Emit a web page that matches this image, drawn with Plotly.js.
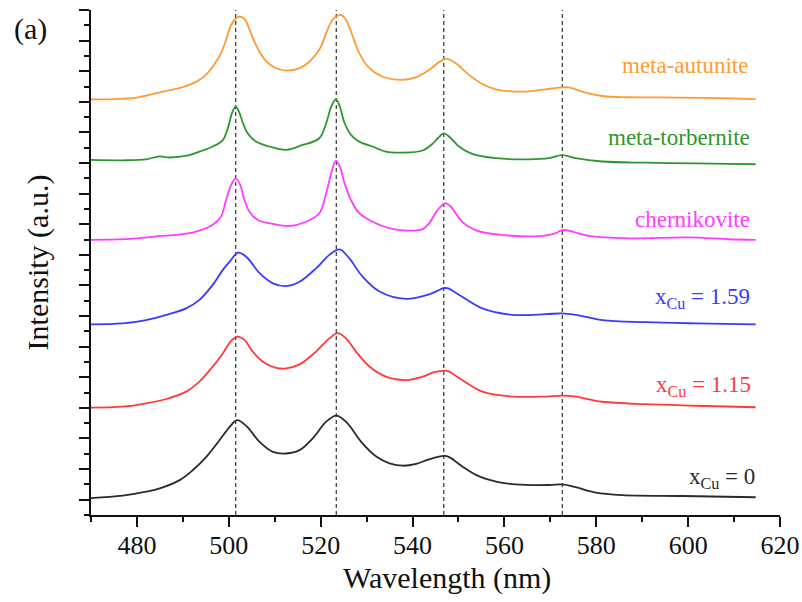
<!DOCTYPE html>
<html>
<head>
<meta charset="utf-8">
<script src="https://cdn.plot.ly/plotly-3.0.1.min.js"></script>
<style>
  html, body { margin: 0; padding: 0; background: #ffffff; }
  #chart { width: 802px; height: 602px; }
</style>
</head>
<body>
<div id="chart"></div>
<script>
// Photoluminescence spectra, stacked with vertical offsets (arbitrary units)

const wlAutunite = [470, 475, 480, 485, 490, 493, 495, 496.8, 498.3, 499.4, 500.5, 501.6, 502.5, 503.4, 504.5, 505.6, 506.7, 508.2, 510, 512.5, 515.4, 517.5, 519.7, 521.2, 522.3, 523.3, 524.4, 525.5, 527, 528.4, 530.6, 533.5, 537.5, 540.7, 543.6, 545.5, 546.8, 547.6, 549.4, 552.3, 555.2, 558.1, 563.9, 569, 572.6, 574, 577, 581.3, 587.1, 598, 607.4, 614.7];
const intAutunite = [13.58, 13.59, 13.64, 13.81, 13.98, 14.16, 14.38, 14.71, 15.09, 15.52, 16.01, 16.23, 16.28, 16.21, 15.87, 15.46, 15.13, 14.82, 14.62, 14.52, 14.60, 14.81, 15.20, 15.74, 16.12, 16.28, 16.34, 16.18, 15.63, 15.09, 14.60, 14.32, 14.22, 14.30, 14.54, 14.77, 14.89, 14.90, 14.76, 14.38, 14.08, 13.91, 13.83, 13.91, 13.97, 13.97, 13.83, 13.69, 13.65, 13.64, 13.62, 13.59];

const wlTorbernite = [470, 476.9, 482, 484.9, 487.1, 491.4, 494.3, 496.5, 498.7, 499.8, 500.7, 501.5, 502.2, 503.1, 504.1, 505.9, 508.8, 512.5, 516.1, 519.7, 521.2, 522.3, 523.3, 524.2, 525.1, 526.6, 528.4, 531.3, 534.2, 537.8, 542.2, 544.3, 545.5, 546.8, 548, 550.1, 553, 558.1, 565.3, 569.7, 572.6, 575.5, 581.3, 590.7, 601.6, 608.9, 614.7];
const intTorbernite = [11.60, 11.59, 11.62, 11.72, 11.68, 11.76, 11.91, 12.04, 12.25, 12.64, 13.13, 13.34, 13.18, 12.80, 12.47, 12.20, 12.04, 11.93, 12.09, 12.31, 12.80, 13.34, 13.59, 13.34, 12.85, 12.42, 12.20, 12.04, 11.87, 11.84, 11.91, 12.12, 12.31, 12.47, 12.36, 12.04, 11.80, 11.66, 11.62, 11.66, 11.76, 11.66, 11.55, 11.51, 11.49, 11.47, 11.46];

const wlChernikovite = [470, 478.4, 482.8, 485, 488.6, 492.9, 496.5, 498.3, 499.4, 500.5, 501.5, 502.5, 503.4, 504.5, 506.3, 509.6, 513.2, 516.8, 519.7, 521.2, 522.3, 523.3, 524.2, 525.1, 526.6, 528.4, 531.3, 534.9, 538.6, 542.2, 543.6, 545.5, 547.1, 548.3, 550.8, 553.7, 559.5, 568.3, 571.2, 572.6, 574.8, 578.4, 587.1, 600.2, 608.9, 614.7];
const intChernikovite = [8.99, 9.02, 9.08, 9.12, 9.15, 9.26, 9.48, 9.75, 10.29, 10.78, 11.00, 10.78, 10.29, 9.91, 9.64, 9.51, 9.44, 9.58, 9.86, 10.51, 11.17, 11.58, 11.38, 10.89, 10.29, 9.86, 9.58, 9.37, 9.29, 9.34, 9.53, 9.97, 10.19, 10.08, 9.58, 9.31, 9.15, 9.12, 9.21, 9.31, 9.26, 9.12, 9.04, 9.07, 9.01, 8.99];

const wlCu159 = [470, 476.9, 482, 486.4, 490.7, 493.6, 496.5, 498.7, 500.2, 502, 503.8, 506.7, 509.6, 512.5, 515.4, 519, 521.9, 524.1, 526.2, 529.1, 532.8, 538.6, 543.6, 546.8, 547.6, 550.8, 555.2, 561.7, 569, 572.6, 575.5, 581.3, 590.7, 601.6, 614.7];
const intCu159 = [6.23, 6.26, 6.37, 6.54, 6.75, 7.03, 7.52, 8.01, 8.28, 8.57, 8.44, 7.90, 7.57, 7.48, 7.62, 8.06, 8.50, 8.68, 8.39, 7.79, 7.30, 7.06, 7.21, 7.41, 7.41, 7.13, 6.75, 6.54, 6.56, 6.59, 6.54, 6.37, 6.30, 6.26, 6.23];

const wlCu115 = [470, 476.9, 482, 486.4, 490.7, 493.6, 496.5, 498.7, 500.5, 501.9, 503.4, 505.2, 507.4, 510.3, 512.5, 515.4, 519, 521.9, 523.7, 525.5, 527.7, 530.6, 534.2, 538.6, 542.2, 544.7, 546.8, 547.6, 550.8, 555.2, 561.7, 569, 572.6, 575.5, 581.3, 590.7, 601.6, 614.7];
const intCu115 = [3.51, 3.54, 3.65, 3.79, 4.03, 4.36, 4.85, 5.28, 5.69, 5.83, 5.72, 5.34, 5.01, 4.81, 4.79, 4.92, 5.34, 5.77, 5.94, 5.77, 5.34, 4.85, 4.52, 4.41, 4.52, 4.67, 4.71, 4.71, 4.41, 4.03, 3.87, 3.87, 3.90, 3.87, 3.70, 3.62, 3.57, 3.52];

const wlCu0 = [470, 476.9, 482, 485, 489.3, 492.2, 495.1, 498, 500.2, 501.8, 503.8, 506.7, 509.6, 512.5, 515.4, 518.3, 521.2, 523.4, 525.5, 529.1, 532.1, 535, 537.9, 540.8, 543.6, 546.9, 548, 550.9, 553.8, 558.2, 562.5, 569.7, 572.6, 575.5, 579.9, 585.7, 598.7, 614.7];
const intCu0 = [0.55, 0.63, 0.76, 0.87, 1.14, 1.47, 1.90, 2.45, 2.88, 3.10, 2.91, 2.39, 2.06, 2.01, 2.12, 2.51, 3.05, 3.25, 3.05, 2.34, 1.91, 1.69, 1.61, 1.67, 1.82, 1.93, 1.89, 1.58, 1.31, 1.09, 1.00, 0.98, 1.00, 0.91, 0.73, 0.65, 0.62, 0.58];

// emission band positions marked by dashed guides (nm)
const bandPositions = [501.5, 523.4, 546.8, 572.6];

// curve labels and where they sit (right edge wavelength, intensity)
const labelTexts = ['meta-autunite', 'meta-torbernite', 'chernikovite', 'x<sub>Cu</sub> = 1.59', 'x<sub>Cu</sub> = 1.15', 'x<sub>Cu</sub> = 0'];
const labelX = [613.4, 613.8, 613.8, 613.8, 614.2, 615.0];
const labelY = [14.70, 12.34, 9.66, 7.10, 4.22, 1.22];

const seriesX = [wlAutunite, wlTorbernite, wlChernikovite, wlCu159, wlCu115, wlCu0];
const seriesY = [intAutunite, intTorbernite, intChernikovite, intCu159, intCu115, intCu0];
const colors = ['#FF9A35', '#2E962E', '#FF3CFF', '#3A3AFF', '#FF3A3A', '#2A2A2A'];

const serif = "'Liberation Serif', 'Times New Roman', Times, serif";

const traces = seriesX.map((xs, i) => ({
  x: xs,
  y: seriesY[i],
  type: 'scatter',
  mode: 'lines',
  line: { color: colors[i], width: 1.8, shape: 'spline', smoothing: 1.0 },
  hoverinfo: 'skip',
  showlegend: false
}));

const shapes = bandPositions.map(w => ({
  type: 'line',
  xref: 'x', yref: 'paper',
  x0: w, x1: w, y0: 0, y1: 1,
  line: { color: '#333333', width: 1.2, dash: '4px,3px' },
  layer: 'below'
}));

const annotations = labelTexts.map((t, i) => ({
  text: t,
  x: labelX[i], y: labelY[i],
  xref: 'x', yref: 'y',
  xanchor: 'right', yanchor: 'middle',
  showarrow: false,
  font: { family: serif, size: 23, color: colors[i] }
}));

annotations.push({
  text: '(a)',
  xref: 'paper', yref: 'paper',
  x: -0.115, y: 0.962,
  xanchor: 'left', yanchor: 'middle',
  showarrow: false,
  font: { family: serif, size: 30, color: '#111111' }
});

// x-axis title
annotations.push({
  text: 'Wavelength (nm)',
  xref: 'paper', yref: 'paper',
  x: 0.516, y: -0.125,
  xanchor: 'center', yanchor: 'middle',
  showarrow: false,
  font: { family: serif, size: 30, color: '#111111' }
});

const layout = {
  width: 802,
  height: 602,
  margin: { l: 91, r: 22, t: 10, b: 87 },
  paper_bgcolor: '#ffffff',
  plot_bgcolor: '#ffffff',
  font: { family: serif, color: '#111111' },
  xaxis: {
    range: [470, 620],
    tick0: 480,
    dtick: 20,
    ticks: 'outside',
    ticklen: 10,
    tickwidth: 2,
    tickcolor: '#111111',
    minor: { dtick: 10, tick0: 470, ticks: 'outside', ticklen: 5, tickwidth: 2, tickcolor: '#111111' },
    showline: true,
    linecolor: '#111111',
    linewidth: 2,
    showgrid: false,
    zeroline: false,
    tickfont: { family: serif, size: 26, color: '#111111' },
    ticklabelstandoff: -4,
    automargin: false
  },
  yaxis: {
    range: [0, 16.5],
    tick0: 0.5,
    dtick: 1,
    ticks: 'outside',
    ticklen: 10,
    tickwidth: 2,
    tickcolor: '#111111',
    minor: { dtick: 0.5, tick0: 0, ticks: 'outside', ticklen: 5, tickwidth: 2, tickcolor: '#111111' },
    showticklabels: false,
    showline: true,
    linecolor: '#111111',
    linewidth: 2,
    showgrid: false,
    zeroline: false,
    title: { text: 'Intensity (a.u.)', font: { family: serif, size: 30, color: '#111111' }, standoff: 22 },
    automargin: false
  },
  shapes: shapes,
  annotations: annotations
};

Plotly.newPlot('chart', traces, layout, { displayModeBar: false, staticPlot: true });
</script>
</body>
</html>
